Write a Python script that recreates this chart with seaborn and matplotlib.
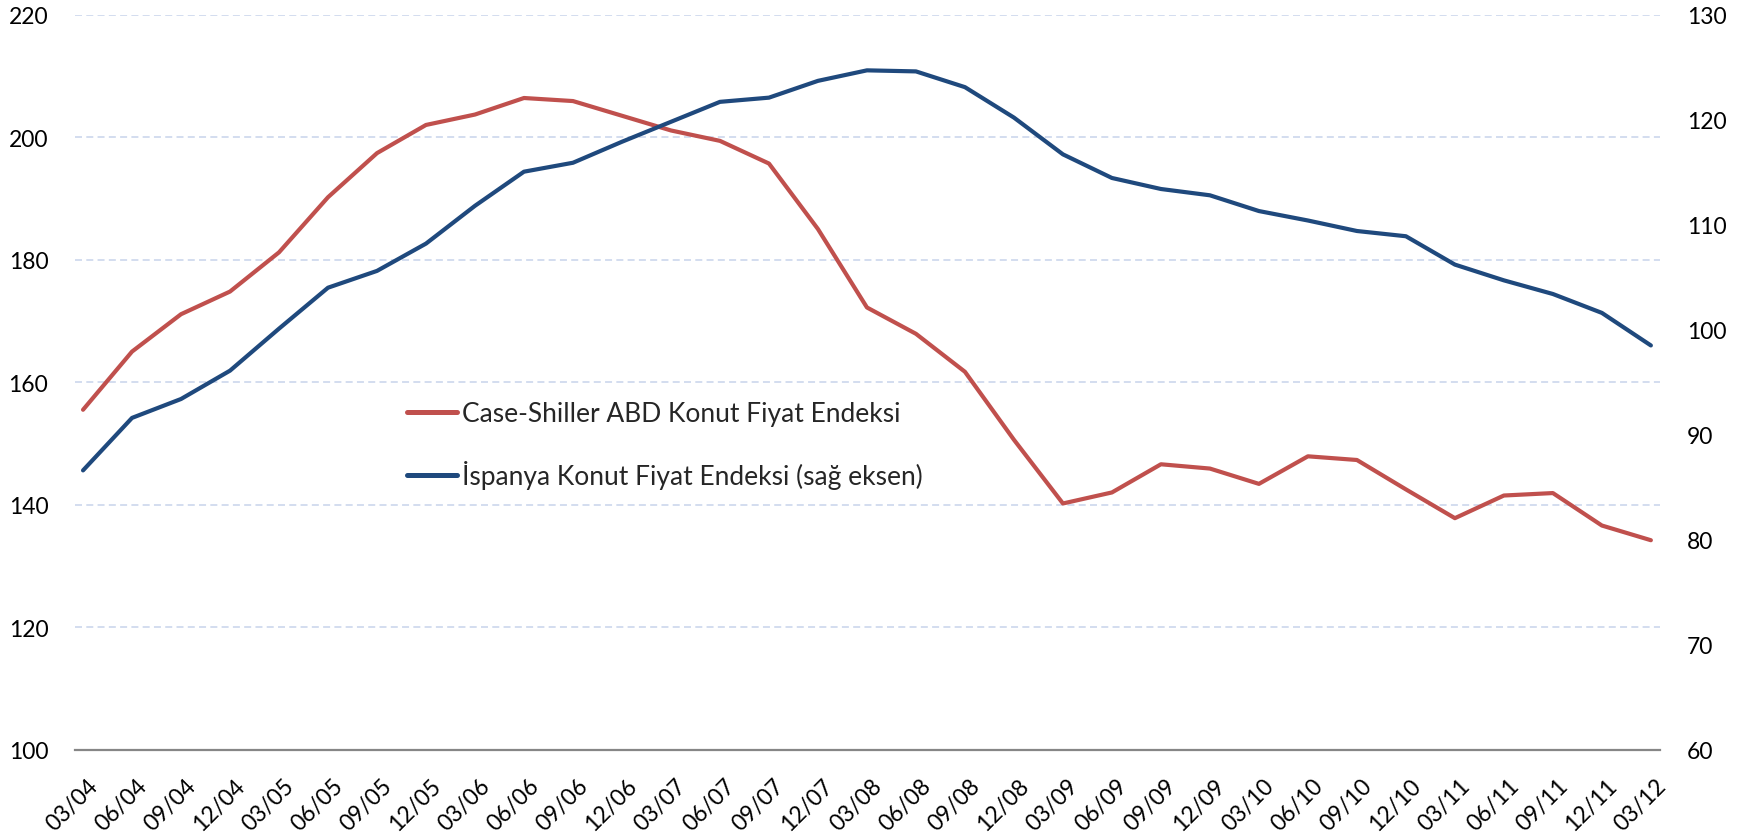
import matplotlib
matplotlib.use("Agg")
import matplotlib.pyplot as plt
import matplotlib.transforms as mtransforms
from matplotlib.lines import Line2D
import seaborn as sns
import numpy as np
import pandas as pd

# ---------------- data ----------------
quarters = ["03/04", "06/04", "09/04", "12/04", "03/05", "06/05", "09/05", "12/05",
            "03/06", "06/06", "09/06", "12/06", "03/07", "06/07", "09/07", "12/07",
            "03/08", "06/08", "09/08", "12/08", "03/09", "06/09", "09/09", "12/09",
            "03/10", "06/10", "09/10", "12/10", "03/11", "06/11", "09/11", "12/11",
            "03/12"]

case_shiller = [155.5, 165.0, 171.1, 174.8, 181.2, 190.2, 197.4, 202.0,
                203.7, 206.4, 205.9, 203.5, 201.1, 199.4, 195.7, 185.0,
                172.2, 167.9, 161.7, 150.6, 140.2, 142.0, 146.6, 145.9,
                143.4, 147.9, 147.3, 142.5, 137.8, 141.5, 141.9, 136.6,
                134.2]

spain = [86.6, 91.6, 93.4, 96.1, 100.1, 104.0, 105.6, 108.2,
         111.8, 115.05, 115.9, 117.9, 119.8, 121.7, 122.1, 123.7,
         124.7, 124.6, 123.1, 120.2, 116.7, 114.45, 113.4, 112.8,
         111.3, 110.4, 109.4, 108.9, 106.2, 104.7, 103.4, 101.6,
         98.5]

left_ticks = [100, 120, 140, 160, 180, 200, 220]
right_ticks = [60, 70, 80, 90, 100, 110, 120, 130]

label_us = "Case-Shiller ABD Konut Fiyat Endeksi"
label_es = "İspanya Konut Fiyat Endeksi (sağ eksen)"

# ---------------- style ----------------
sns.set_style("white")
plt.rcParams["font.family"] = ["Lato", "DejaVu Sans"]

RED = "#C0504D"
BLUE = "#1F497D"
GRID = "#D3DDEF"
AXIS = "#868686"

W, H = 1750, 837
fig = plt.figure(figsize=(W / 100, H / 100), dpi=100)
x0, x1 = 74.7, 1659.7
ytop, ybot = 15.7, 750.7
ax = fig.add_axes([x0 / W, (H - ybot) / H, (x1 - x0) / W, (ybot - ytop) / H])
ax2 = ax.twinx()

pos = np.arange(len(quarters))
offset = 0.17
df = pd.DataFrame({"q": quarters, "x": pos + offset, "us": case_shiller, "es": spain})

sns.lineplot(data=df, x="x", y="us", ax=ax, color=RED, linewidth=3.0,
             solid_capstyle="round", solid_joinstyle="round", zorder=3)
sns.lineplot(data=df, x="x", y="es", ax=ax2, color=BLUE, linewidth=3.0,
             solid_capstyle="round", solid_joinstyle="round", zorder=3)

ax.set_xlim(0, 32.35)
ax.set_ylim(100, 220)
ax2.set_ylim(60, 130)
ax.set_yticks(left_ticks)
ax.set_yticklabels([str(v) for v in left_ticks])
ax2.set_yticks(right_ticks)
ax2.set_yticklabels([str(v) for v in right_ticks])

ax.set_xlabel("")
ax.set_ylabel("")
ax2.set_ylabel("")

ax.yaxis.grid(True, color=GRID, linestyle=(0, (3.6, 2.2)), linewidth=1.4)
ax.xaxis.grid(False)
ax.set_axisbelow(True)

for a in (ax, ax2):
    for s in ("top", "left", "right"):
        a.spines[s].set_visible(False)
ax2.spines["bottom"].set_visible(False)
ax.spines["bottom"].set_color(AXIS)
ax.spines["bottom"].set_linewidth(1.6)

ax.set_xticks(pos)
ax.set_xticklabels(quarters, rotation=45, ha="right", va="center",
                   rotation_mode="anchor", fontsize=16.5)
ax.tick_params(axis="x", direction="out", length=5.5, width=1.5, color=AXIS,
               pad=0, labelcolor="black")
ax.tick_params(axis="y", length=0, pad=19, labelsize=16.5, labelcolor="black")
ax2.tick_params(axis="y", length=0, pad=19.5, labelsize=16.5, labelcolor="black")

shift = mtransforms.ScaledTranslation(20 / 100, -25 / 100, fig.dpi_scale_trans)
for lbl in ax.get_xticklabels():
    lbl.set_transform(lbl.get_transform() + shift)

handles = [Line2D([], [], color=RED, linewidth=3.6, solid_capstyle="round"),
           Line2D([], [], color=BLUE, linewidth=3.6, solid_capstyle="round")]
leg = fig.legend(handles, [label_us, label_es], loc="upper left",
                 bbox_to_anchor=(406.7 / W, 1 - 402.5 / H), bbox_transform=fig.transFigure,
                 frameon=False, fontsize=19, handlelength=1.9, handletextpad=0.2,
                 labelspacing=1.28, borderpad=0, borderaxespad=0)

fig.savefig("out.png", dpi=100, facecolor="white")
